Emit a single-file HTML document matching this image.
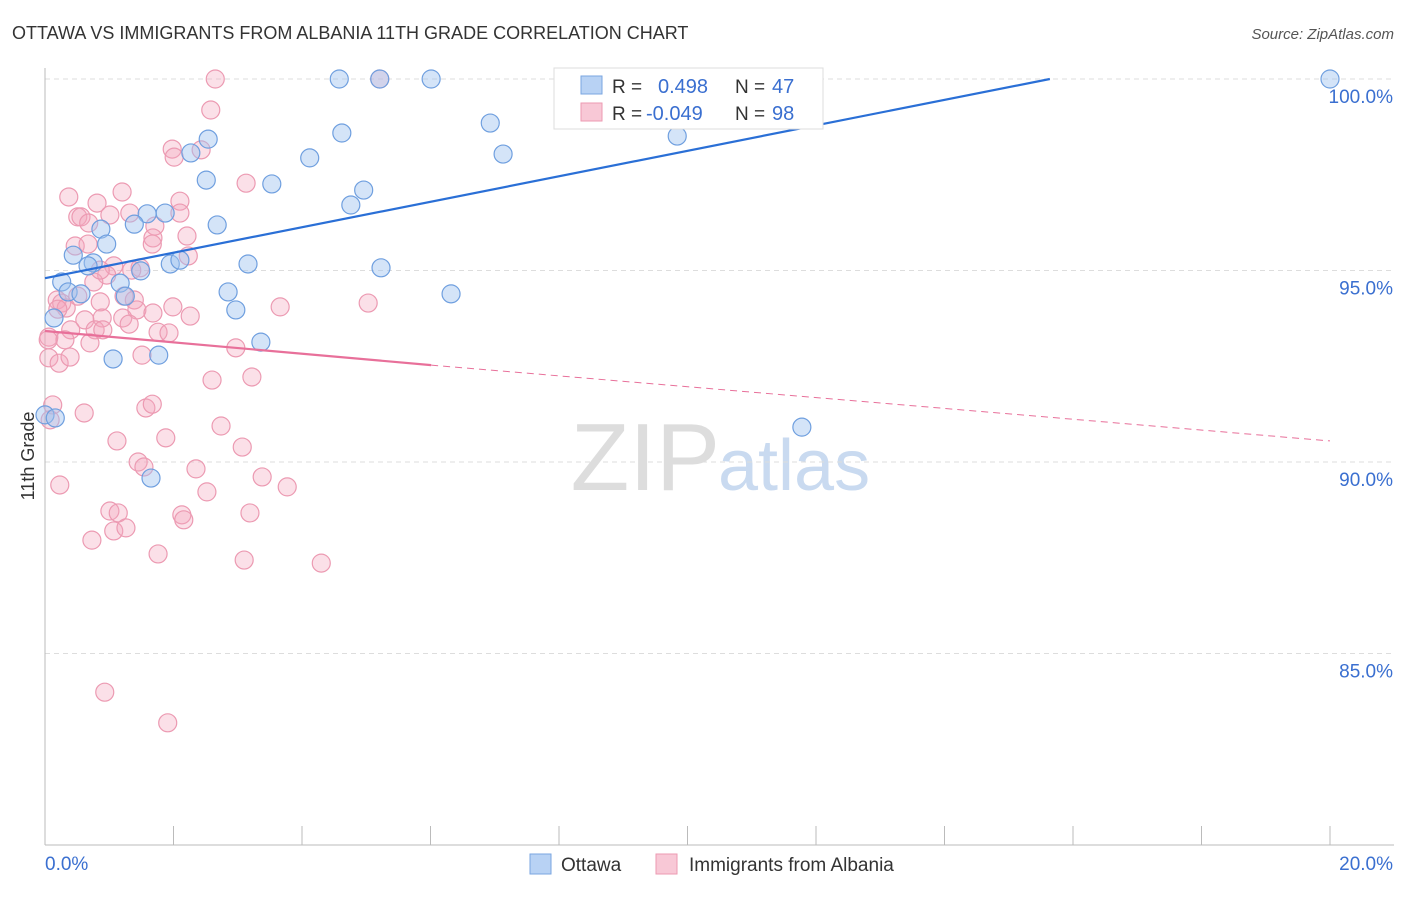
<!DOCTYPE html>
<html><head><meta charset="utf-8"><style>
body{margin:0;background:#fff;font-family:"Liberation Sans",sans-serif}
svg text{font-family:"Liberation Sans",sans-serif}
</style></head><body>
<svg id="c" width="1406" height="892" xmlns="http://www.w3.org/2000/svg">
<text x="12" y="39" font-size="18" fill="#333">OTTAWA VS IMMIGRANTS FROM ALBANIA 11TH GRADE CORRELATION CHART</text>
<text x="1394" y="39" font-size="15" fill="#555" text-anchor="end" font-style="italic">Source: ZipAtlas.com</text>
<text x="720" y="490" font-size="96" fill="#ddd" text-anchor="end" font-family="Liberation Serif">ZIP</text>
<text x="718" y="490" font-size="72" fill="#c9daf0">atlas</text>
<text x="34" y="456" font-size="18" fill="#333" text-anchor="middle" transform="rotate(-90 34 456)">11th Grade</text>
<g id="grid"></g><g id="axes"></g><g id="pts"></g><g id="lines"></g>
<g>
<rect x="554" y="68" width="269" height="61" fill="#fff" stroke="#ddd"/>
<rect x="581" y="76" width="21" height="18" fill="#b8d2f4" stroke="#7aa6e0"/>
<text x="612" y="93" font-size="19" fill="#333">R = </text><text x="658" y="93" font-size="20" fill="#3a6fd0">0.498</text>
<text x="735" y="93" font-size="19" fill="#333">N = </text><text x="772" y="93" font-size="20" fill="#3a6fd0">47</text>
<rect x="581" y="103" width="21" height="18" fill="#f8c8d6" stroke="#ec9ab2"/>
<text x="612" y="120" font-size="19" fill="#333">R = </text><text x="646" y="120" font-size="20" fill="#3a6fd0">-0.049</text>
<text x="735" y="120" font-size="19" fill="#333">N = </text><text x="772" y="120" font-size="20" fill="#3a6fd0">98</text>
</g>
<g>
<rect x="530" y="854" width="21" height="20" fill="#b8d2f4" stroke="#7aa6e0"/>
<text x="561" y="871" font-size="19" fill="#333">Ottawa</text>
<rect x="656" y="854" width="21" height="20" fill="#f8c8d6" stroke="#ec9ab2"/>
<text x="689" y="871" font-size="19" fill="#333">Immigrants from Albania</text>
</g>
</svg>
<script>
const xTicks=[0,2,4,6,8,10,12,14,16,18,20];
const yTicks=[100,95,90,85];
const yTickLabels=["100.0%","95.0%","90.0%","85.0%"];
const xEndLabels=["0.0%","20.0%"];
const ottawaX=[4.58,5.21,6.01,8.37,9.34,20.0,2.54,4.62,6.93,2.27,4.12,7.13,9.84,2.51,3.53,4.96,4.76,1.59,1.87,1.39,2.68,0.87,0.96,0.44,0.75,0.67,1.49,1.95,2.10,3.16,5.23,0.26,1.17,0.36,0.56,1.25,2.85,6.32,2.97,0.14,3.36,1.06,1.77,1.65,11.78,0.0,0.16];
const ottawaY=[100,100,100,100,100,100,98.43,98.59,98.85,98.07,97.94,98.04,98.51,97.36,97.26,97.10,96.71,96.48,96.50,96.21,96.19,96.08,95.69,95.40,95.20,95.12,94.99,95.17,95.27,95.17,95.07,94.70,94.67,94.44,94.39,94.33,94.44,94.39,93.97,93.76,93.13,92.69,92.79,89.58,90.91,91.23,91.15];
const albaniaX=[2.65,5.21,2.58,1.98,2.01,2.43,3.13,1.20,0.37,0.81,2.10,0.51,0.56,1.01,2.10,1.32,0.68,1.71,2.21,1.68,1.67,0.47,0.67,2.23,1.07,1.48,1.35,0.96,0.76,0.19,0.26,0.51,1.23,1.39,0.33,0.20,0.86,1.43,1.99,3.66,5.03,1.68,2.26,0.89,1.21,0.62,1.31,0.40,0.78,0.90,1.76,1.93,0.06,0.31,0.70,2.97,1.51,0.06,0.22,0.39,2.60,3.22,1.57,1.67,0.12,0.61,1.88,2.74,1.12,3.07,1.45,1.54,2.35,3.38,2.52,3.77,0.23,1.01,1.14,2.13,2.16,3.19,1.07,1.26,0.73,1.76,3.10,4.30,0.93,1.91,0.08,0.05,0.86];
const albaniaY=[100,100,99.19,98.17,97.96,98.15,97.28,97.05,96.92,96.76,96.81,96.40,96.40,96.45,96.50,96.50,96.24,96.16,95.90,95.85,95.69,95.64,95.69,95.38,95.12,95.07,95.01,94.88,94.70,94.23,94.15,94.33,94.33,94.23,94.02,93.99,94.18,93.97,94.05,94.05,94.15,93.89,93.81,93.76,93.76,93.71,93.60,93.45,93.45,93.45,93.39,93.37,93.26,93.19,93.11,92.98,92.79,92.72,92.58,92.74,92.14,92.22,91.41,91.51,91.49,91.28,90.63,90.94,90.55,90.39,90.00,89.87,89.82,89.61,89.22,89.35,89.40,88.72,88.67,88.62,88.49,88.67,88.20,88.28,87.96,87.60,87.44,87.36,83.99,83.19,91.10,93.19,95.01];
const ottawaLine=[0,94.80,15.64,100];
const albaniaLine=[0,93.42,6.01,92.53,20,90.55];
const NS="http://www.w3.org/2000/svg";
const sx=v=>45+v*64.25, sy=v=>79+(100-v)*38.3;
function mk(t,a,p){const e=document.createElementNS(NS,t);for(const k in a)e.setAttribute(k,a[k]);document.getElementById(p).appendChild(e);return e;}
yTicks.forEach((v,i)=>{
 const g=mk('line',{x1:45,x2:1394,y1:sy(v),y2:sy(v),stroke:'#ddd','stroke-dasharray':'5,4'},'grid');
 
 
 const t=mk('text',{x:1393,y:sy(v)+24,'font-size':19,fill:'#3a6fd0','text-anchor':'end'},'axes');
 t.textContent=yTickLabels[i];
 
 
});
const ax=mk('line',{x1:45,x2:1394,y1:845,y2:845,stroke:'#bbb'},'axes');


const ay=mk('line',{x1:45,x2:45,y1:68,y2:845,stroke:'#bbb'},'axes');


xTicks.forEach(v=>{const l=mk('line',{x1:sx(v),x2:sx(v),y1:826,y2:845,stroke:'#bbb'},'axes');
 
 });
const xl0=mk('text',{x:45,y:870,'font-size':19,fill:'#3a6fd0'},'axes');xl0.textContent=xEndLabels[0];


const xl1=mk('text',{x:1393,y:870,'font-size':19,fill:'#3a6fd0','text-anchor':'end'},'axes');xl1.textContent=xEndLabels[1];


albaniaX.forEach((x,i)=>{const c=mk('circle',{cx:sx(x),cy:sy(albaniaY[i]),r:9,fill:'rgba(244,165,188,0.35)',stroke:'#ec9ab2','stroke-width':1.2},'pts');
 
 });
ottawaX.forEach((x,i)=>{const c=mk('circle',{cx:sx(x),cy:sy(ottawaY[i]),r:9,fill:'rgba(160,195,240,0.45)',stroke:'#6f9fdf','stroke-width':1.2},'pts');
 
 });
const l1=mk('line',{x1:sx(ottawaLine[0]),y1:sy(ottawaLine[1]),x2:sx(ottawaLine[2]),y2:sy(ottawaLine[3]),stroke:'#2a6fd6','stroke-width':2.2},'lines');


const l2=mk('line',{x1:sx(albaniaLine[0]),y1:sy(albaniaLine[1]),x2:sx(albaniaLine[2]),y2:sy(albaniaLine[3]),stroke:'#e8709a','stroke-width':2.2},'lines');


const l3=mk('line',{x1:sx(albaniaLine[2]),y1:sy(albaniaLine[3]),x2:sx(albaniaLine[4]),y2:sy(albaniaLine[5]),stroke:'#e8709a','stroke-width':1,'stroke-dasharray':'7,5'},'lines');


</script>
</body></html>
